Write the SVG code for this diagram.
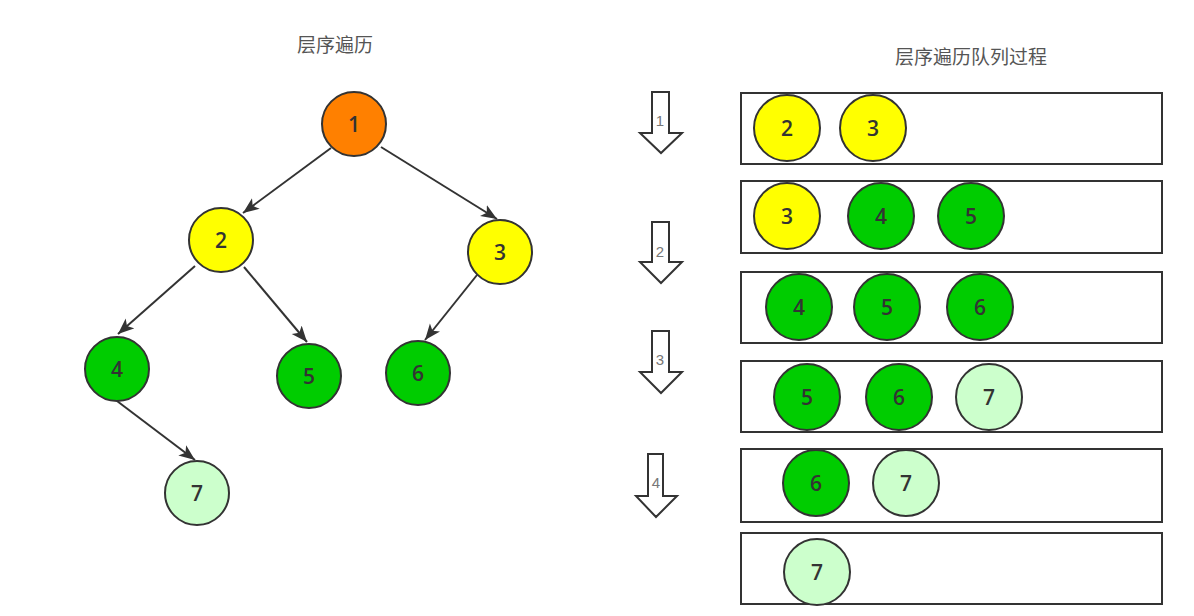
<svg xmlns="http://www.w3.org/2000/svg" width="1194" height="616" viewBox="0 0 1194 616">
<style>
.n circle{stroke:#333;stroke-width:2}
.n text,.q text{font-family:"Open Sans","Liberation Sans",sans-serif;font-size:21px;font-weight:600;fill:#333;text-anchor:middle}
.o{fill:#FF8000}.y{fill:#FFFF00}.g{fill:#00CC00}.l{fill:#CCFFCC}
.edge{stroke:#333;stroke-width:2;fill:none;marker-end:url(#ah)}
.box{fill:#fff;stroke:#333;stroke-width:2}
.barrow{fill:#fff;stroke:#333;stroke-width:2;stroke-linejoin:miter}
.step{font-family:"Liberation Sans",sans-serif;font-size:15px;fill:#777;text-anchor:middle}
.title{font-family:"Noto Sans CJK SC","Noto Sans",sans-serif;font-size:19px;fill:#555;text-anchor:middle}
.qc{stroke:#333;stroke-width:2}
</style>
<defs>
<marker id="ah" markerUnits="userSpaceOnUse" markerWidth="18" markerHeight="14" refX="16" refY="6.5" orient="auto">
<path d="M0,0 L16,6.5 L0,13 L4,6.5 z" fill="#333"/>
</marker>
</defs>
<rect width="1194" height="616" fill="#fff"/>
<text class="title" x="335" y="52">层序遍历</text>
<text class="title" x="971" y="64">层序遍历队列过程</text>
<g id="connectors">
<line class="edge" x1="331" y1="148" x2="243" y2="213"/>
<line class="edge" x1="381" y1="147" x2="497" y2="219"/>
<line class="edge" x1="195" y1="266" x2="118" y2="334"/>
<line class="edge" x1="244" y1="267" x2="307" y2="342"/>
<line class="edge" x1="477" y1="275" x2="425" y2="340"/>
<line class="edge" x1="117" y1="401" x2="195" y2="460"/>
</g>
<g id="node1" class="n"><circle class="o" cx="354" cy="124" r="32"/><text x="354" y="132">1</text></g>
<g id="node2" class="n"><circle class="y" cx="221" cy="240" r="32"/><text x="221" y="248">2</text></g>
<g id="node3" class="n"><circle class="y" cx="500" cy="252" r="32"/><text x="500" y="260">3</text></g>
<g id="node4" class="n"><circle class="g" cx="117" cy="369" r="32"/><text x="117" y="377">4</text></g>
<g id="node5" class="n"><circle class="g" cx="309" cy="376" r="32"/><text x="309" y="384">5</text></g>
<g id="node6" class="n"><circle class="g" cx="418" cy="373" r="32"/><text x="418" y="381">6</text></g>
<g id="node7" class="n"><circle class="l" cx="197" cy="493" r="32"/><text x="197" y="501">7</text></g>
<g id="steps">
<polygon class="barrow" points="652,92 669,92 669,133 682,133 661,153 640,133 652,133"/>
<text class="step" x="660" y="126">1</text>
<polygon class="barrow" points="652,222 669,222 669,262 682,262 661,283 640,262 652,262"/>
<text class="step" x="660" y="257">2</text>
<polygon class="barrow" points="652,331 669,331 669,372 682,372 661,393 640,372 652,372"/>
<text class="step" x="660" y="365">3</text>
<polygon class="barrow" points="648,454 663,454 663,496 677,496 656,517 636,496 648,496"/>
<text class="step" x="656" y="488">4</text>
</g>
<g id="queue1" class="q"><rect class="box" x="741" y="93" width="421" height="71"/>
<circle class="qc y" cx="787" cy="128" r="33"/><text x="787" y="136">2</text>
<circle class="qc y" cx="873" cy="128" r="33"/><text x="873" y="136">3</text></g>
<g id="queue2" class="q"><rect class="box" x="741" y="181" width="421" height="72"/>
<circle class="qc y" cx="787" cy="216" r="33"/><text x="787" y="224">3</text>
<circle class="qc g" cx="881" cy="216" r="33"/><text x="881" y="224">4</text>
<circle class="qc g" cx="971" cy="216" r="33"/><text x="971" y="224">5</text></g>
<g id="queue3" class="q"><rect class="box" x="741" y="272" width="421" height="71"/>
<circle class="qc g" cx="799" cy="307" r="33"/><text x="799" y="315">4</text>
<circle class="qc g" cx="887" cy="307" r="33"/><text x="887" y="315">5</text>
<circle class="qc g" cx="980" cy="307" r="33"/><text x="980" y="315">6</text></g>
<g id="queue4" class="q"><rect class="box" x="741" y="361" width="421" height="71"/>
<circle class="qc g" cx="807" cy="397" r="33"/><text x="807" y="405">5</text>
<circle class="qc g" cx="899" cy="397" r="33"/><text x="899" y="405">6</text>
<circle class="qc l" cx="989" cy="397" r="33"/><text x="989" y="405">7</text></g>
<g id="queue5" class="q"><rect class="box" x="741" y="449" width="421" height="73"/>
<circle class="qc g" cx="816" cy="483" r="33"/><text x="816" y="491">6</text>
<circle class="qc l" cx="906" cy="483" r="33"/><text x="906" y="491">7</text></g>
<g id="queue6" class="q"><rect class="box" x="741" y="533" width="421" height="71"/>
<circle class="qc l" cx="817" cy="572" r="33"/><text x="817" y="580">7</text></g>
</svg>
